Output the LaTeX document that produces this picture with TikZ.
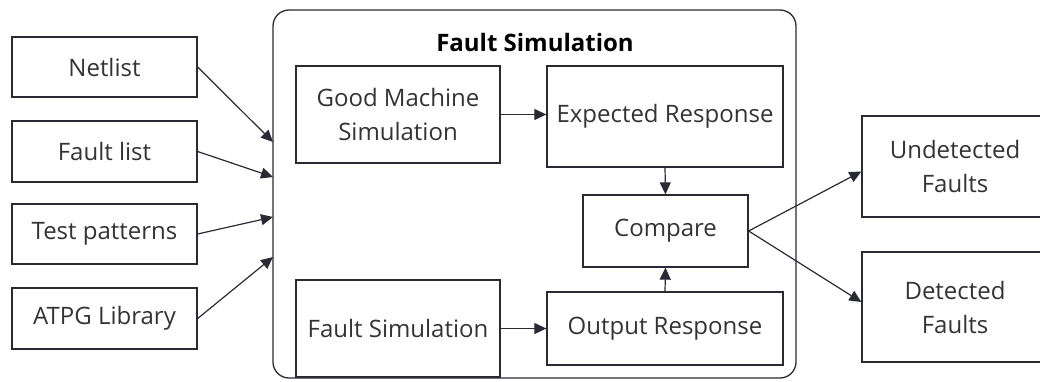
\documentclass[tikz,border=0pt]{standalone}
\usepackage{fontspec}
\setmainfont{Open Sans}
\usetikzlibrary{arrows.meta,calc}
\definecolor{edge}{HTML}{2A2A35}
\definecolor{txt}{HTML}{333333}
\begin{document}
\begin{tikzpicture}[x=1pt,y=-1pt,
  box/.style={draw=edge,line width=1.3pt,text=txt,align=center,font=\fontsize{24}{34}\selectfont},
  arr/.style={draw=edge,line width=1.2pt,-{Triangle[length=12pt,width=11pt]}}]
\useasboundingbox (0,0) rectangle (1040,381);
\begin{scope}
\clip (0,0) rectangle (1040,381);
% inputs
\node[box,minimum width=185pt,minimum height=60pt] (netlist) at (104.5,67) {Netlist};
\node[box,minimum width=185pt,minimum height=61pt] (faultlist) at (104.5,151.5) {Fault list};
\node[box,minimum width=185pt,minimum height=60pt] (testpat) at (104.5,234) {Test patterns};
\node[box,minimum width=185pt,minimum height=61pt] (atpg) at (104.5,318.5) {ATPG Library};
% container
\node[draw=edge,line width=1.3pt,rounded corners=16pt,minimum width=523pt,minimum height=368pt] (big) at (534.5,194) {};
\node[font=\fontsize{24}{28}\selectfont\bfseries,text=black] (title) at (535,42) {Fault Simulation};
% inner
\node[box,minimum width=204pt,minimum height=97pt] (good) at (398,114.5) {Good Machine\\Simulation};
\node[box,minimum width=236pt,minimum height=101pt] (expected) at (665,116.5) {Expected Response};
\node[box,minimum width=165pt,minimum height=72pt] (compare) at (665.5,231) {Compare};
\node[box,minimum width=204pt,minimum height=97pt] (faultsim) at (398,328.5) {Fault Simulation};
\node[box,minimum width=236pt,minimum height=73pt] (output) at (665,328.5) {Output Response};
% outputs
\node[box,minimum width=186pt,minimum height=101pt,text width=170pt] (undet) at (955,166.5) {Undetected\\Faults};
\node[box,minimum width=186pt,minimum height=110pt,text width=170pt] (det) at (955,307) {Detected\\Faults};
\end{scope}
% input arrow ends on container
\coordinate (in1) at (273,142);
\coordinate (in2) at (273,177);
\coordinate (in3) at (273,217);
\coordinate (in4) at (273,257);
\draw[arr] (netlist.east) -- (in1);
\draw[arr] (faultlist.east) -- (in2);
\draw[arr] (testpat.east) -- (in3);
\draw[arr] (atpg.east) -- (in4);
\draw[arr] (good.east) -- (good.east -| expected.west);
\draw[arr] (expected.south) -- (compare.north);
\draw[arr] (output.north) -- (compare.south);
\draw[arr] (faultsim.east) -- (output.west);
\draw[arr] (compare.east) -- ($(undet.west)+(0,5)$);
\draw[arr] (compare.east) -- ($(det.west)+(0,-5)$);
\end{tikzpicture}
\end{document}
